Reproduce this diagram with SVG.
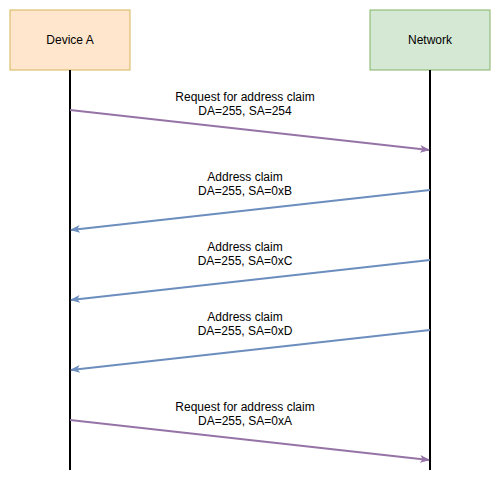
<svg xmlns="http://www.w3.org/2000/svg" width="501" height="483" viewBox="0 0 501 483">
<style>
text{font-family:"Liberation Sans",Arial,sans-serif;font-size:12px;fill:#000;text-anchor:middle}
.life{stroke:#000;stroke-width:2;fill:none}
.req{stroke:#9673A6;stroke-width:2;fill:none}
.clm{stroke:#6C8EBF;stroke-width:2;fill:none}
</style>
<defs>
<marker id="ap" viewBox="0 0 10 10" refX="9" refY="5" markerWidth="10" markerHeight="10" markerUnits="userSpaceOnUse" orient="auto">
<path d="M0,1 L10,5 L0,9 L2.5,5 Z" fill="#9673A6"/>
</marker>
<marker id="ab" viewBox="0 0 10 10" refX="9" refY="5" markerWidth="10" markerHeight="10" markerUnits="userSpaceOnUse" orient="auto">
<path d="M0,1 L10,5 L0,9 L2.5,5 Z" fill="#6C8EBF"/>
</marker>
</defs>
<rect width="501" height="483" fill="#fff"/>
<g id="deviceA">
<rect x="10" y="10" width="120" height="60" fill="#FFE6CC" stroke="#D6B656"/>
<text x="70" y="44">Device A</text>
<line class="life" x1="70" y1="70" x2="70" y2="470"/>
</g>
<g id="network">
<rect x="370" y="10" width="120" height="60" fill="#D5E8D4" stroke="#82B366"/>
<text x="430" y="44">Network</text>
<line class="life" x1="430" y1="70" x2="430" y2="470"/>
</g>
<g id="connectors">
<line class="req" x1="70" y1="110" x2="429" y2="150" marker-end="url(#ap)"/>
<text x="245" y="101">Request for address claim</text>
<text x="245" y="115">DA=255, SA=254</text>
<line class="clm" x1="430" y1="190" x2="71" y2="230" marker-end="url(#ab)"/>
<text x="245" y="181">Address claim</text>
<text x="245" y="195">DA=255, SA=0xB</text>
<line class="clm" x1="430" y1="260" x2="71" y2="300" marker-end="url(#ab)"/>
<text x="245" y="251">Address claim</text>
<text x="245" y="265">DA=255, SA=0xC</text>
<line class="clm" x1="430" y1="330" x2="71" y2="370" marker-end="url(#ab)"/>
<text x="245" y="321">Address claim</text>
<text x="245" y="335">DA=255, SA=0xD</text>
<line class="req" x1="70" y1="420" x2="429" y2="460" marker-end="url(#ap)"/>
<text x="245" y="411">Request for address claim</text>
<text x="245" y="425">DA=255, SA=0xA</text>
</g>
</svg>
